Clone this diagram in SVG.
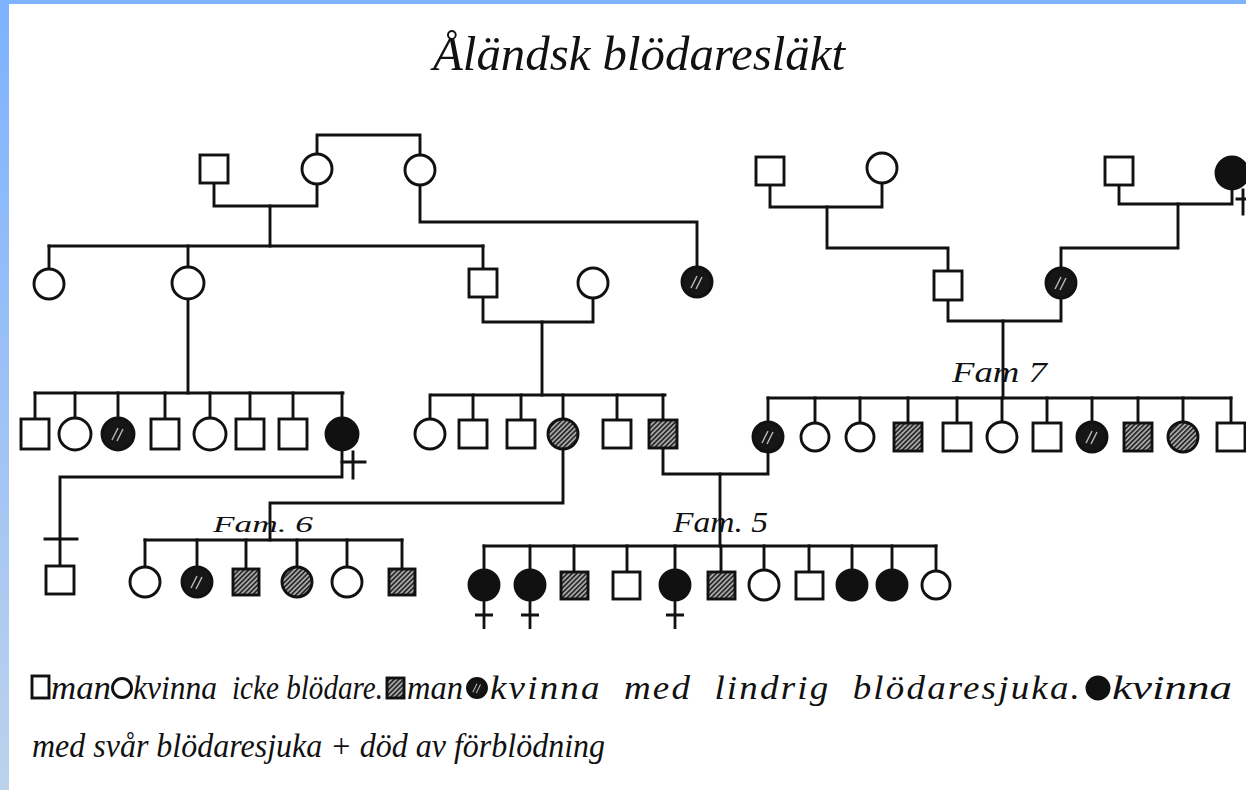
<svg xmlns="http://www.w3.org/2000/svg" xmlns:xlink="http://www.w3.org/1999/xlink" width="1246" height="790" viewBox="0 0 1246 790">
<defs>
<linearGradient id="frame" x1="0" y1="0" x2="0" y2="1">
<stop offset="0" stop-color="#7db2ff"/><stop offset="1" stop-color="#bcd2ec"/>
</linearGradient>
<pattern id="grey" patternUnits="userSpaceOnUse" width="3.4" height="3.4" patternTransform="rotate(45)">
<rect width="3.4" height="3.4" fill="#a8a8a8"/><rect width="1.6" height="3.4" fill="#222"/>
</pattern>
<g id="sl"><path d="M-6 6 L0 -6 M-1 7 L5 -5" stroke="#b5b5b5" stroke-width="1.5" fill="none"/></g>
<g id="cross"><path d="M0 0 V28 M-9 14 H9" stroke="#111" stroke-width="2.8" fill="none"/></g>
<style>
.p{fill:#fff;stroke:#111;stroke-width:2.9}
.b{fill:#111;stroke:#111;stroke-width:2.9}
.g{fill:url(#grey);stroke:#111;stroke-width:2.9}
.d{fill:#161616;stroke:#111;stroke-width:2.9}
.c{fill:none;stroke:#111;stroke-width:2.9;stroke-linejoin:miter;stroke-linecap:square}
.t{font-family:"Liberation Serif","DejaVu Serif",serif;font-style:italic;fill:#111}
.lg{font-size:34px}
</style>
</defs>
<rect width="1246" height="790" fill="#fff"/>
<rect x="0" y="0" width="1246" height="4" fill="#7fb3ff"/>
<rect x="0" y="0" width="9" height="790" fill="url(#frame)"/>

<text class="t" x="433" y="70" font-size="48" textLength="412" lengthAdjust="spacingAndGlyphs">Åländsk blödaresläkt</text>

<g id="connectors">
<polyline class="c" points="214,183 214,206 317,206 317,184"/>
<polyline class="c" points="270,206 270,246"/>
<polyline class="c" points="317,154 317,135 420,135 420,155"/>
<polyline class="c" points="420,185 420,222 697,222 697,267"/>
<polyline class="c" points="49,246 483,246"/>
<polyline class="c" points="49,246 49,269"/>
<polyline class="c" points="188,246 188,267"/>
<polyline class="c" points="483,246 483,269"/>
<polyline class="c" points="770,185 770,207 882,207 882,183"/>
<polyline class="c" points="827,207 827,248 948,248 948,271"/>
<polyline class="c" points="1119,185 1119,204 1232,204 1232,189"/>
<polyline class="c" points="1178,204 1178,248 1061,248 1061,268"/>
<polyline class="c" points="188,299 188,393"/>
<polyline class="c" points="35,393 343,393"/>
<path class="c" d="M35 393V419 M75 393V418 M118 393V418 M165 393V419 M210 393V418 M250 393V419 M293 393V419 M342 393V418"/>
<polyline class="c" points="483,297 483,322 593,322 593,298"/>
<polyline class="c" points="542,322 542,395"/>
<polyline class="c" points="432,395 665,395"/>
<path class="c" d="M430 395V419 M473 395V420 M521 395V420 M563 395V419 M617 395V420 M663 395V420"/>
<polyline class="c" points="948,300 948,321 1061,321 1061,298"/>
<polyline class="c" points="1003,321 1003,398"/>
<polyline class="c" points="768,398 1231,398"/>
<path class="c" d="M768 398V422 M815 398V423 M860 398V423 M908 398V423 M957 398V423 M1002 398V422 M1047 398V423 M1092 398V422 M1138 398V423 M1183 398V422 M1231 398V423"/>
<polyline class="c" points="342,450 342,477 60,477 60,566"/>
<path class="c" d="M45 539H77"/>
<polyline class="c" points="563,449 563,503 270,503 270,540"/>
<polyline class="c" points="145,540 402,540"/>
<path class="c" d="M145 540V567 M197 540V567 M246 540V569 M297 540V567 M347 540V567 M402 540V569"/>
<polyline class="c" points="768,452 768,474 663,474 663,448"/>
<polyline class="c" points="720,474 720,546"/>
<polyline class="c" points="484,546 936,546"/>
<path class="c" d="M484 546V570 M530 546V570 M574 546V572 M627 546V572 M675 546V570 M721 546V572 M764 546V570 M809 546V572 M852 546V570 M892 546V570 M936 546V571"/>
</g>

<g id="gen1-man-a"><rect class="p" x="200" y="155" width="28" height="28"/></g>
<g id="gen1-woman-b"><circle class="p" cx="317" cy="169" r="15"/></g>
<g id="gen1-woman-c"><circle class="p" cx="420" cy="170" r="15"/></g>
<g id="gen1-man-d"><rect class="p" x="756" y="157" width="28" height="28"/></g>
<g id="gen1-woman-e"><circle class="p" cx="882" cy="168" r="15"/></g>
<g id="gen1-man-f"><rect class="p" x="1105" y="157" width="28" height="28"/></g>
<g id="gen1-woman-g"><circle class="b" cx="1232" cy="173" r="16"/><path class="c" d="M1243 190V214 M1237 199H1246"/></g>

<g id="gen2-woman-a"><circle class="p" cx="49" cy="284" r="15"/></g>
<g id="gen2-woman-b"><circle class="p" cx="188" cy="283" r="16"/></g>
<g id="gen2-man-c"><rect class="p" x="469" y="269" width="28" height="28"/></g>
<g id="gen2-woman-d"><circle class="p" cx="593" cy="283" r="15"/></g>
<g id="gen2-woman-e"><circle class="d" cx="697" cy="282" r="15"/><use href="#sl" x="697" y="282"/></g>
<g id="gen2-man-f"><rect class="p" x="934" y="271" width="28" height="29"/></g>
<g id="gen2-woman-g"><circle class="d" cx="1061" cy="283" r="15"/><use href="#sl" x="1061" y="283"/></g>

<g id="gen3-l1"><rect class="p" x="21" y="419" width="28" height="30"/></g>
<g id="gen3-l2"><circle class="p" cx="75" cy="434" r="16"/></g>
<g id="gen3-l3"><circle class="d" cx="118" cy="434" r="16"/><use href="#sl" x="118" y="434"/></g>
<g id="gen3-l4"><rect class="p" x="151" y="419" width="28" height="30"/></g>
<g id="gen3-l5"><circle class="p" cx="210" cy="434" r="16"/></g>
<g id="gen3-l6"><rect class="p" x="236" y="419" width="28" height="30"/></g>
<g id="gen3-l7"><rect class="p" x="279" y="419" width="28" height="30"/></g>
<g id="gen3-l8"><circle class="b" cx="342" cy="434" r="16"/><path class="c" d="M353 452V478 M342 462H365"/></g>

<g id="gen3-m1"><circle class="p" cx="430" cy="434" r="15"/></g>
<g id="gen3-m2"><rect class="p" x="459" y="420" width="28" height="28"/></g>
<g id="gen3-m3"><rect class="p" x="507" y="420" width="28" height="28"/></g>
<g id="gen3-m4"><circle class="g" cx="563" cy="434" r="15"/></g>
<g id="gen3-m5"><rect class="p" x="603" y="420" width="28" height="28"/></g>
<g id="gen3-m6"><rect class="g" x="649" y="420" width="28" height="28"/></g>

<g id="fam7-label"><text class="t" x="952" y="382" font-size="30" textLength="95" lengthAdjust="spacingAndGlyphs">Fam 7</text></g>
<g id="fam7-1"><circle class="d" cx="768" cy="437" r="15"/><use href="#sl" x="768" y="437"/></g>
<g id="fam7-2"><circle class="p" cx="815" cy="437" r="14"/></g>
<g id="fam7-3"><circle class="p" cx="860" cy="437" r="14"/></g>
<g id="fam7-4"><rect class="g" x="894" y="423" width="28" height="28"/></g>
<g id="fam7-5"><rect class="p" x="943" y="423" width="28" height="28"/></g>
<g id="fam7-6"><circle class="p" cx="1002" cy="437" r="15"/></g>
<g id="fam7-7"><rect class="p" x="1033" y="423" width="28" height="28"/></g>
<g id="fam7-8"><circle class="d" cx="1092" cy="437" r="15"/><use href="#sl" x="1092" y="437"/></g>
<g id="fam7-9"><rect class="g" x="1124" y="423" width="28" height="28"/></g>
<g id="fam7-10"><circle class="g" cx="1183" cy="437" r="15"/></g>
<g id="fam7-11"><rect class="p" x="1217" y="423" width="28" height="28"/></g>

<g id="lone-man"><rect class="p" x="46" y="566" width="28" height="28"/></g>

<g id="fam6-label"><text class="t" x="213" y="532" font-size="24" textLength="100" lengthAdjust="spacingAndGlyphs">Fam. 6</text></g>
<g id="fam6-1"><circle class="p" cx="145" cy="582" r="15"/></g>
<g id="fam6-2"><circle class="d" cx="197" cy="582" r="15"/><use href="#sl" x="197" y="582"/></g>
<g id="fam6-3"><rect class="g" x="233" y="569" width="26" height="26"/></g>
<g id="fam6-4"><circle class="g" cx="297" cy="582" r="15"/></g>
<g id="fam6-5"><circle class="p" cx="347" cy="582" r="15"/></g>
<g id="fam6-6"><rect class="g" x="389" y="569" width="26" height="26"/></g>

<g id="fam5-label"><text class="t" x="673" y="532" font-size="30" textLength="95" lengthAdjust="spacingAndGlyphs">Fam. 5</text></g>
<g id="fam5-1"><circle class="b" cx="484" cy="585" r="15"/><use href="#cross" x="484" y="601"/></g>
<g id="fam5-2"><circle class="b" cx="530" cy="585" r="15"/><use href="#cross" x="530" y="601"/></g>
<g id="fam5-3"><rect class="g" x="561" y="572" width="27" height="27"/></g>
<g id="fam5-4"><rect class="p" x="613" y="572" width="27" height="27"/></g>
<g id="fam5-5"><circle class="b" cx="675" cy="585" r="15"/><use href="#cross" x="675" y="601"/></g>
<g id="fam5-6"><rect class="g" x="708" y="572" width="27" height="27"/></g>
<g id="fam5-7"><circle class="p" cx="764" cy="585" r="15"/></g>
<g id="fam5-8"><rect class="p" x="796" y="572" width="27" height="27"/></g>
<g id="fam5-9"><circle class="b" cx="852" cy="585" r="15"/></g>
<g id="fam5-10"><circle class="b" cx="892" cy="585" r="15"/></g>
<g id="fam5-11"><circle class="p" cx="936" cy="585" r="14"/></g>

<g id="legend">
<rect class="p" x="32" y="676" width="17" height="22" stroke-width="2.4"/>
<text class="t lg" x="51" y="699" textLength="60" lengthAdjust="spacingAndGlyphs">man</text>
<circle class="p" cx="122" cy="688" r="9.5" stroke-width="2.4"/>
<text class="t lg" x="133" y="699" textLength="84" lengthAdjust="spacingAndGlyphs">kvinna</text>
<text class="t lg" x="232" y="699" textLength="151" lengthAdjust="spacingAndGlyphs">icke blödare.</text>
<rect class="g" x="387" y="678" width="17" height="20" stroke-width="2"/>
<text class="t lg" x="407" y="699" textLength="56" lengthAdjust="spacingAndGlyphs">man</text>
<circle class="d" cx="477" cy="688" r="9.5" stroke-width="2"/>
<use href="#sl" transform="translate(477 688) scale(0.7)"/>
<text class="t lg" x="490" y="699" letter-spacing="2" word-spacing="10" textLength="592" lengthAdjust="spacingAndGlyphs">kvinna med lindrig blödaresjuka.</text>
<circle class="b" cx="1098" cy="688" r="11"/>
<text class="t lg" x="1112" y="699" textLength="120" lengthAdjust="spacingAndGlyphs">kvinna</text>
<text class="t lg" x="32" y="757" textLength="573" lengthAdjust="spacingAndGlyphs">med svår blödaresjuka + död av förblödning</text>
</g>
</svg>
